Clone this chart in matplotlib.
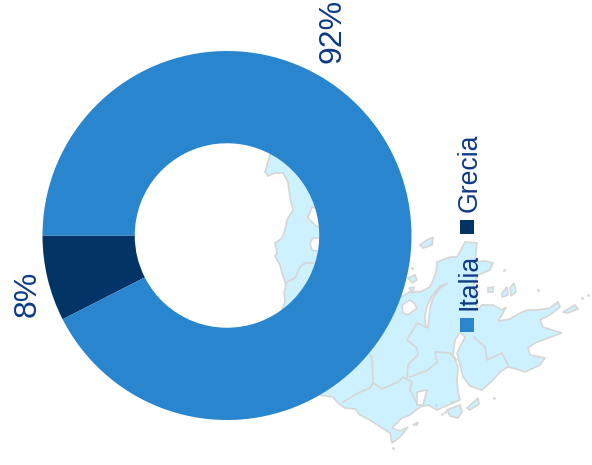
import matplotlib
matplotlib.use('Agg')
import matplotlib.pyplot as plt
from matplotlib.patches import Polygon

plt.rcParams['font.family'] = ['Liberation Sans', 'DejaVu Sans']

# dati del grafico
categories = ['Grecia', 'Italia']
values = [7.5, 92.5]
colors = ['#023565', '#2a85cf']
text_color = '#0d3a85'
land_color = '#cdf1ff'
border_color = '#d6d6d6'

# sfondo: sagoma della mappa, in pixel dell'immagine
land_west = [(270, 155), (265, 172), (268, 176), (275, 173), (283, 173), (288, 182), (289, 190), (290, 197),
             (293, 210), (287, 220), (285, 230), (282, 238), (275, 243), (277, 253), (275, 256),
             (280, 265), (282, 273), (286, 285), (284, 293), (285, 302), (282, 310), (300, 330),
             (340, 250), (310, 150), (285, 125), (270, 140)]
land_main = [(399, 298), (410, 292), (420, 292), (426, 289), (430, 287), (436, 273), (437, 262), (450, 257),
             (457, 257), (461, 250), (465, 242), (477, 243), (475, 262), (485, 261), (493, 263), (490, 270),
             (478, 275), (473, 287), (477, 300), (477, 310), (482, 305), (493, 305), (502, 310),
             (506, 307), (502, 315), (498, 321), (510, 319), (520, 313), (527, 310), (538, 310), (550, 308), (558, 302),
             (560, 307), (550, 315), (540, 320), (543, 327), (552, 330), (562, 333), (548, 338), (535, 343), (528, 348),
             (530, 355), (545, 358), (540, 365), (525, 372), (516, 369), (508, 367), (500, 372), (493, 380), (482, 390),
             (470, 386), (463, 377), (457, 353), (462, 343), (465, 337), (460, 332), (455, 340), (453, 355),
             (458, 367), (457, 380), (458, 392), (460, 400), (448, 405), (437, 410), (428, 405),
             (420, 407), (410, 415), (402, 418), (392, 428), (400, 431), (408, 427), (400, 437),
             (392, 443), (390, 433), (382, 428), (370, 420), (360, 415), (355, 409), (345, 408),
             (338, 403), (333, 397), (320, 395), (340, 300)]
islands = [[(420, 245), (427, 240), (433, 237), (432, 245), (423, 248)],
           [(563, 312), (575, 305), (578, 309), (568, 313)],
           [(488, 288), (493, 287), (493, 292), (488, 292)],
           [(502, 293), (507, 287), (508, 295), (502, 297)],
           [(510, 288), (514, 283), (516, 292), (511, 296)],
           [(408, 278), (415, 275), (417, 280), (412, 283)],
           [(409, 288), (414, 287), (413, 293)],
           [(467, 408), (478, 398), (479, 404), (470, 410)],
           [(447, 410), (460, 405), (462, 412), (458, 418), (450, 416)],
           [(413, 425), (418, 422), (417, 425)]]
specks = [(393, 448), (436, 405), (442, 414), (494, 398), (582, 298), (588, 295),
          (504, 270), (538, 290), (412, 268), (445, 412), (452, 402)]
inlets = [[(308, 218), (312, 207), (322, 210), (322, 228), (316, 226)],
          [(310, 243), (313, 238), (322, 238), (322, 252), (312, 250)],
          [(402, 305), (410, 300), (414, 303), (417, 308), (408, 315), (403, 313)],
          [(448, 283), (440, 288), (433, 298), (430, 308), (428, 328), (426, 327), (425, 317),
           (427, 306), (432, 296), (440, 286)],
          [(417, 392), (427, 390), (423, 405), (417, 405)]]
borders = [[(285, 283), (295, 278), (300, 267), (305, 263), (313, 263)],
           [(343, 402), (360, 392), (370, 388), (373, 383), (372, 357), (370, 355)],
           [(373, 383), (382, 389), (398, 382), (403, 377), (412, 382), (410, 390), (417, 403)],
           [(407, 377), (408, 365), (418, 355), (417, 348), (407, 340), (417, 323), (426, 327)],
           [(410, 377), (428, 370), (437, 362), (435, 352), (450, 353), (457, 360)],
           [(474, 337), (485, 347), (487, 360), (502, 353), (508, 365)]]

fig = plt.figure(figsize=(5.92, 4.65), dpi=100)

bg = fig.add_axes([0, 0, 1, 1])
bg.set_xlim(0, 592)
bg.set_ylim(465, 0)
bg.axis('off')
for shape in [land_west, land_main] + islands:
    bg.add_patch(Polygon(shape, closed=True, fc=land_color, ec=border_color, lw=1.2))
for shape in inlets:
    bg.add_patch(Polygon(shape, closed=True, fc='white', ec=border_color, lw=1.2))
for line in borders:
    bg.plot(*zip(*line), color=border_color, lw=1.2)
bg.scatter(*zip(*specks), s=4, color=border_color, linewidths=0)

# ciambella
ax = fig.add_axes([42.5 / 592, (465 - 420) / 465, 369 / 592, 369 / 465], zorder=1)
ax.patch.set_alpha(0)
ax.pie(values, colors=colors, startangle=180, radius=1, wedgeprops={'width': 0.5})
ax.set_xlim(-1, 1)
ax.set_ylim(-1, 1)

ax.text(333, 31, f'{values[1]:.0f}%', transform=bg.transData, rotation=90, ha='center', va='center',
        fontsize=23, color=text_color)
ax.text(28, 294, f'{values[0]:.0f}%', transform=bg.transData, rotation=90, ha='center', va='center',
        fontsize=23, color=text_color)

# legenda verticale
for name, color, y_box, y_text in zip(categories, colors, [227, 325], [212, 310]):
    bg.plot(467, y_box, marker='s', ms=10, color=color, mew=0, zorder=5)
    bg.text(469.5, y_text, name, rotation=90, ha='center', va='bottom', fontsize=19.2,
            color=text_color, zorder=5)

plt.savefig('out.png', dpi=100)
plt.close()
